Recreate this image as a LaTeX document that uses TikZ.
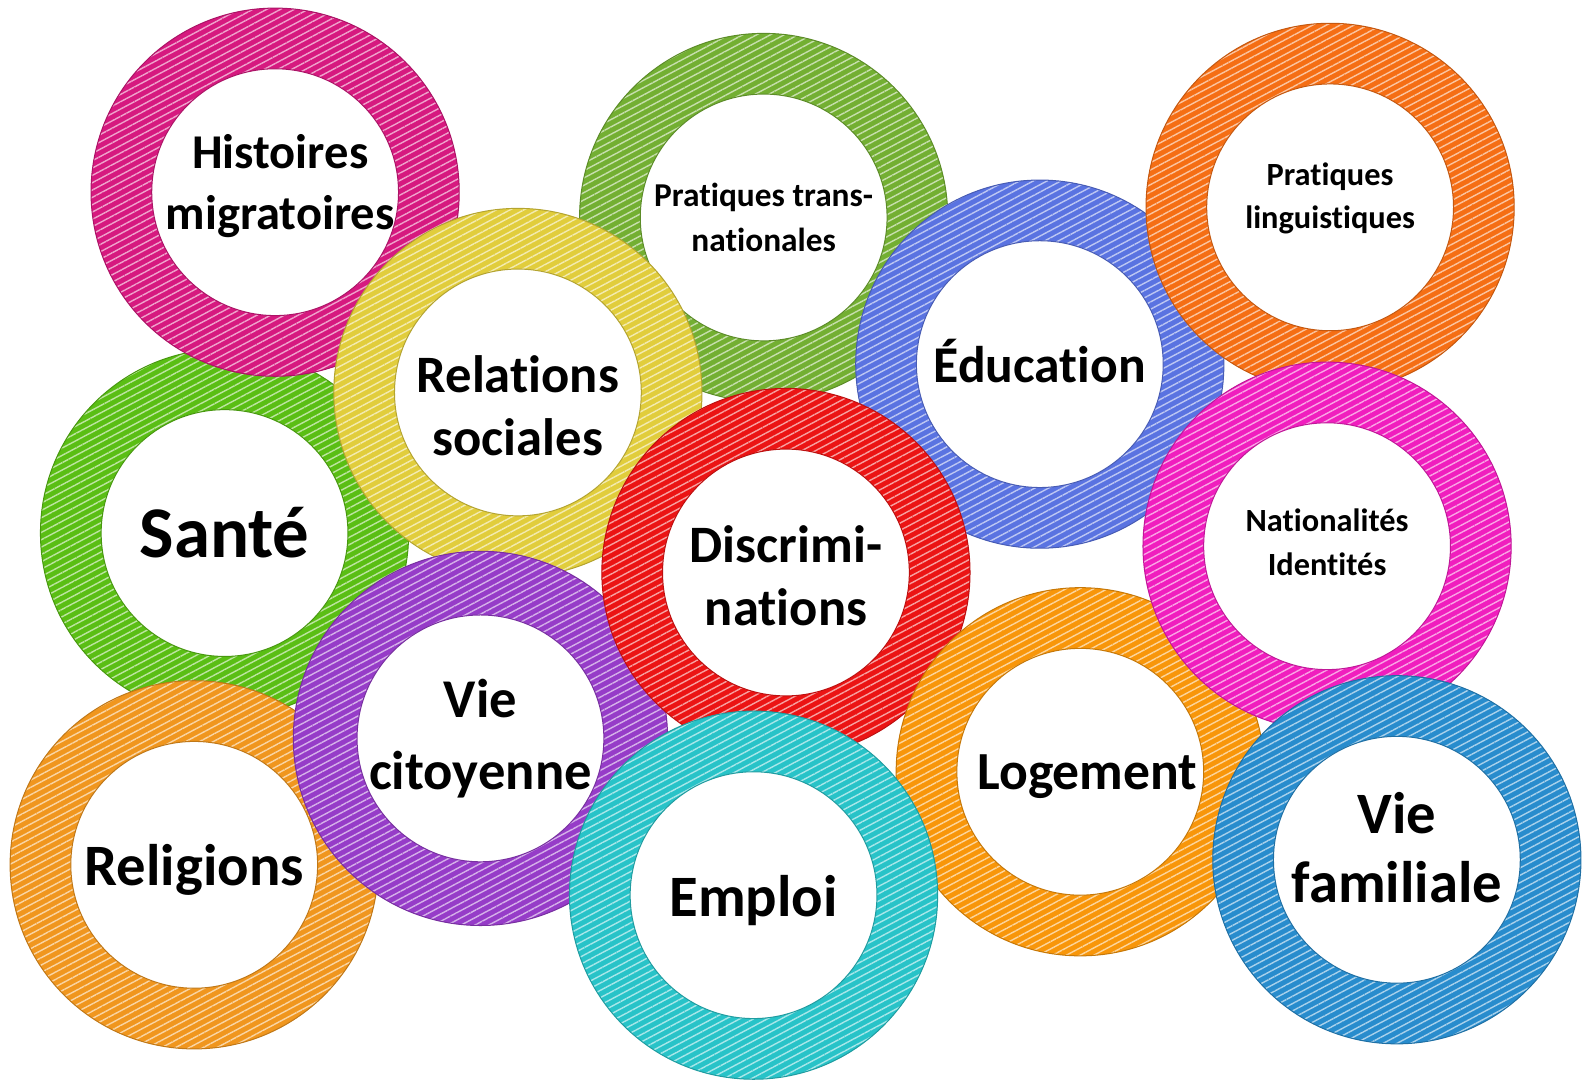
\documentclass[tikz,border=0pt]{standalone}
\usepackage{fontspec}
\setmainfont{Carlito}[Ligatures=NoCommon, Contextuals=NoAlternate]
\usetikzlibrary{patterns.meta}

\definecolor{histcol}{HTML}{D6197F}
\definecolor{transcol}{HTML}{73AF32}
\definecolor{lingcol}{HTML}{F56E14}
\definecolor{relcol}{HTML}{E1CD3C}
\definecolor{educol}{HTML}{5A73E1}
\definecolor{santecol}{HTML}{5ABE14}
\definecolor{discrcol}{HTML}{EB1414}
\definecolor{natcol}{HTML}{F01EBE}
\definecolor{citcol}{HTML}{963CC8}
\definecolor{relicol}{HTML}{F0961E}
\definecolor{emploicol}{HTML}{28C3C8}
\definecolor{logcol}{HTML}{F8960A}
\definecolor{famcol}{HTML}{288CCD}

\tikzset{
  ring/.style={circle, inner sep=0pt, minimum size=182pt, fill=#1,
    draw=#1!80!black, line width=0.5pt,
    path picture={
      \fill[pattern={Lines[angle=28, distance=3.2pt, line width=0.7pt]},
        pattern color=#1!40!white]
        (path picture bounding box.south west) rectangle (path picture bounding box.north east);
      \filldraw[white, draw=#1!80!black, line width=0.5pt]
        (path picture bounding box.center) circle[radius=61pt];
    }},
  txt/.style 2 args={align=center, inner sep=0pt, font=\fontsize{#1}{#2}\selectfont\bfseries}
}

\begin{document}
\begin{tikzpicture}[x=0.5pt, y=-0.5pt]
        \useasboundingbox (0, 0) rectangle (1568, 1070);

        % bottom layer
        \node[ring=santecol] (sante) at (222, 527) {};
        \node[txt={36}{40}] (sante text) at (sante) {Santé};
        \node[ring=histcol] (histoires) at (272, 190) {};
        \node[txt={24}{30}] (histoires text) at ([xshift=2.5pt, yshift=3pt]histoires) {Histoires\\migratoires};
        \node[ring=relicol] (religions) at (192, 855) {};
        \node[txt={29}{34}] (religions text) at ([yshift=-2.5pt]religions) {Religions};
        \node[ring=transcol] (transnat) at (755, 215) {};
        \node[txt={16.5}{22.5}] (transnat text) at (transnat) {Pratiques trans-\\nationales};

        % middle layer
        \node[ring=relcol] (relations) at (512, 388) {};
        \node[txt={26}{31.5}] (relations text) at ([yshift=-6.5pt]relations) {Relations\\sociales};
        \node[ring=citcol, minimum size=185pt] (citoyenne) at (475, 730) {};
        \node[txt={27}{35.5}] (citoyenne text) at (citoyenne) {Vie\\citoyenne};
        \node[ring=educol] (education) at (1028, 360) {};
        \node[txt={25.5}{30}] (education text) at ([yshift=1.5pt]education) {Éducation};
        \node[ring=discrcol] (discrim) at (777, 566) {};
        \node[txt={26}{31}] (discrim text) at ([yshift=-1.5pt]discrim) {Discrimi-\\nations};
        \node[ring=logcol] (logement) at (1068, 763) {};
        \node[txt={26.5}{30}] (logement text) at ([xshift=3.5pt, yshift=-2.5pt]logement) {Logement};
        \node[ring=emploicol] (emploi) at (745, 885) {};
        \node[txt={29}{34}] (emploi text) at ([yshift=-2.5pt]emploi) {Emploi};

        % top layer
        \node[ring=lingcol] (linguistiques) at (1315, 205) {};
        \node[txt={16}{21.5}] (linguistiques text) at ([yshift=4.5pt]linguistiques) {Pratiques\\linguistiques};
        \node[ring=natcol] (nationalites) at (1312, 540) {};
        \node[txt={16}{22}] (nationalites text) at ([yshift=2pt]nationalites) {Nationalités\\Identités};
        \node[ring=famcol] (familiale) at (1381, 850) {};
        \node[txt={29}{34}] (familiale text) at ([yshift=6pt]familiale) {Vie\\familiale};

\end{tikzpicture}
\end{document}
